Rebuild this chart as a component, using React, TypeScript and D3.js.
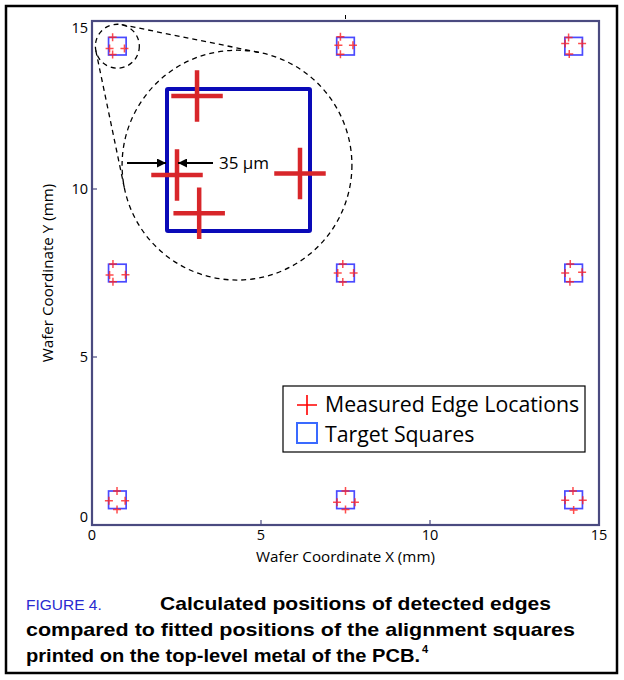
import React from 'react';
import * as d3 from 'd3';

// ---- data ----
const xTicks = [0, 5, 10, 15];
const yTicks = [0, 5, 10, 15];
const targetX = [0.75, 7.5, 14.25, 0.75, 7.5, 14.25, 0.75, 7.5, 14.25];
const targetY = [14.25, 14.25, 14.25, 7.5, 7.5, 7.5, 0.75, 0.75, 0.75];
const targetSide = 0.52;
// measured edge locations (top, left, right, bottom) for each square
const edgeX = [
  0.61, 0.52, 0.96, 0.61,
  7.35, 7.29, 7.72, 7.35,
  14.1, 14.0, 14.5, 14.12,
  0.62, 0.52, 0.99, 0.62,
  7.42, 7.27, 7.74, 7.42,
  14.15, 14.0, 14.5, 14.14,
  0.74, 0.5, 0.98, 0.74,
  7.5, 7.25, 7.78, 7.5,
  14.23, 14.0, 14.52, 14.25,
];
const edgeY = [
  14.52, 14.18, 14.18, 14.0,
  14.53, 14.28, 14.28, 14.01,
  14.51, 14.33, 14.33, 14.02,
  7.77, 7.44, 7.45, 7.24,
  7.77, 7.5, 7.5, 7.23,
  7.77, 7.5, 7.52, 7.24,
  1.01, 0.72, 0.72, 0.46,
  1.01, 0.68, 0.68, 0.46,
  1.01, 0.74, 0.74, 0.45,
];
// magnified inset: edge offsets in units of the square's half side
const insetEdgeDX = [-0.58, -0.86, 0.86, -0.55];
const insetEdgeDY = [0.9, -0.21, -0.19, -0.75];
const insetCenter = [4.29, 10.71];
const insetRadius = 3.4;
const zoomRadius = 0.65;
const captionLines = [
  'Calculated positions of detected edges',
  'compared to fitted positions of the alignment squares',
  'printed on the top-level metal of the PCB.',
];

const W = 624;
const H = 680;
const FONT = '"Open Sans", Lato, sans-serif';
const CAP = '"Liberation Sans", Arial, sans-serif';

export default function App() {
  const x = d3.scaleLinear().domain([0, 15]).range([92, 599]);
  const y = d3.scaleLinear().domain([0, 15]).range([525, 21]);
  const [x0, x1] = x.range();
  const [y0, y1] = y.range();

  const half = (x(targetSide) - x(0)) / 2;
  const crossArm = 4;

  // inset geometry
  const c1 = [x(targetX[0]), y(targetY[0])];
  const r1 = x(zoomRadius) - x(0);
  const c2 = [x(insetCenter[0]), y(insetCenter[1])];
  const r2 = x(insetRadius) - x(0);
  const dx = c2[0] - c1[0];
  const dy = c2[1] - c1[1];
  const d = Math.hypot(dx, dy);
  const base = Math.atan2(dy, dx);
  const theta = Math.acos((r1 - r2) / d);
  const tangents = [base - theta, base + theta].map((a) => {
    const n = [Math.cos(a), Math.sin(a)];
    return [c1[0] + r1 * n[0], c1[1] + r1 * n[1], c2[0] + r2 * n[0], c2[1] + r2 * n[1]];
  });

  // inset square scale
  const ix = d3.scaleLinear().domain([-1, 1]).range([167, 310]);
  const iy = d3.scaleLinear().domain([-1, 1]).range([231, 89]);
  const iArm = (ix(1) - ix(-1)) * 0.18;
  const arrowY = 163;
  const leftEdgePx = ix(-1);
  const leftCrossPx = ix(insetEdgeDX[1]);

  const edgeIdx = d3.range(edgeX.length);

  return (
    <svg
      width={W}
      height={H}
      style={{ position: 'absolute', left: 0, top: 0, background: '#fff' }}
    >
      <defs>
        <marker id="ah" viewBox="0 0 10 10" refX="10" refY="5" markerWidth="11" markerHeight="9" orient="auto-start-reverse" markerUnits="userSpaceOnUse">
          <path d="M0,0 L10,5 L0,10 z" fill="#000" />
        </marker>
      </defs>
      <rect x={6} y={6} width={611} height={667} fill="#fff" stroke="#000" strokeWidth={2.5} />

      {/* plot frame */}
      <rect x={x0} y={y1} width={x1 - x0} height={y0 - y1} fill="#fff" stroke="#4a4a80" strokeWidth={2.2} />
      {xTicks.slice(1, -1).map((t) => (
        <line key={'xt' + t} x1={x(t)} x2={x(t)} y1={y0} y2={y0 - 5} stroke="#4a4a80" strokeWidth={1.2} />
      ))}
      {yTicks.slice(1, -1).map((t) => (
        <line key={'yt' + t} x1={x0} x2={x0 + 5} y1={y(t)} y2={y(t)} stroke="#4a4a80" strokeWidth={1.2} />
      ))}
      <line x1={x(7.5)} x2={x(7.5)} y1={y1 - 6} y2={y1 - 2} stroke="#000" strokeWidth={1} />

      {xTicks.map((t) => (
        <text key={'xl' + t} x={x(t)} y={y0 + 15} textAnchor="middle" fontFamily={FONT} fontSize={14.5} fill="#000">
          {t}
        </text>
      ))}
      {yTicks.map((t) => (
        <text
          key={'yl' + t}
          x={88}
          y={Math.min(Math.max(y(t), y1 + 7), y0 - 8)}
          dy="0.35em"
          textAnchor="end"
          fontFamily={FONT}
          fontSize={14.5}
          fill="#000"
        >
          {t}
        </text>
      ))}
      <text x={(x0 + x1) / 2} y={562} textAnchor="middle" fontFamily={FONT} fontSize={15.2} fill="#000">
        Wafer Coordinate X (mm)
      </text>
      <text
        transform={`translate(53,${(y0 + y1) / 2}) rotate(-90)`}
        textAnchor="middle"
        fontFamily={FONT}
        fontSize={15.2}
        fill="#000"
      >
        Wafer Coordinate Y (mm)
      </text>

      {/* target squares */}
      {targetX.map((tx, i) => (
        <rect
          key={'sq' + i}
          x={x(tx) - half}
          y={y(targetY[i]) - half}
          width={2 * half}
          height={2 * half}
          fill="none"
          stroke="#2a2aff"
          strokeOpacity={0.85}
          strokeWidth={1.7}
        />
      ))}
      {/* measured edges */}
      {edgeIdx.map((i) => (
        <path
          key={'e' + i}
          d={`M${x(edgeX[i]) - crossArm},${y(edgeY[i])}h${2 * crossArm}M${x(edgeX[i])},${y(edgeY[i]) - crossArm}v${2 * crossArm}`}
          stroke="#ff2020"
          strokeOpacity={0.8}
          strokeWidth={1.5}
        />
      ))}

      {/* inset */}
      <circle cx={c1[0]} cy={c1[1]} r={r1} fill="none" stroke="#000" strokeWidth={1.3} strokeDasharray="5,4" />
      <circle cx={c2[0]} cy={c2[1]} r={r2} fill="#fff" stroke="#000" strokeWidth={1.3} strokeDasharray="5,4" />
      {tangents.map((t, i) => (
        <line key={'tg' + i} x1={t[0]} y1={t[1]} x2={t[2]} y2={t[3]} stroke="#000" strokeWidth={1.3} strokeDasharray="5,4" />
      ))}
      <rect
        x={ix(-1)}
        y={iy(1)}
        width={ix(1) - ix(-1)}
        height={iy(-1) - iy(1)}
        fill="none"
        stroke="#0a0ab8"
        strokeWidth={4}
        rx={1}
      />
      {insetEdgeDX.map((ex, i) => (
        <path
          key={'ie' + i}
          d={`M${ix(ex) - iArm},${iy(insetEdgeDY[i])}h${2 * iArm}M${ix(ex)},${iy(insetEdgeDY[i]) - iArm}v${2 * iArm}`}
          stroke="#d8262a"
          strokeWidth={4.5}
        />
      ))}
      <line x1={leftEdgePx - 40} y1={arrowY} x2={leftEdgePx - 1} y2={arrowY} stroke="#000" strokeWidth={2.2} markerEnd="url(#ah)" />
      <line x1={leftCrossPx + 36} y1={arrowY} x2={leftCrossPx + 1} y2={arrowY} stroke="#000" strokeWidth={2.2} markerEnd="url(#ah)" />
      <text x={leftCrossPx + 42} y={arrowY + 6} fontFamily={FONT} fontSize={17} fill="#000">
        35 µm
      </text>

      {/* legend */}
      <rect x={283} y={386} width={302} height={66} fill="#fff" stroke="#000" strokeWidth={1.2} />
      <path d="M297,405h20M307,395v20" stroke="#ff0000" strokeWidth={1.6} />
      <rect x={297} y={423} width={20} height={20} fill="none" stroke="#3a6aff" strokeWidth={2} />
      <text x={325} y={412} fontFamily={FONT} fontSize={21.3} fill="#000">
        Measured Edge Locations
      </text>
      <text x={325} y={442} fontFamily={FONT} fontSize={21.3} fill="#000">
        Target Squares
      </text>

      {/* caption */}
      <text x={26} y={610} fontFamily={CAP} fontSize={15.5} fill="#2a2ad0">
        FIGURE 4.
      </text>
      <text x={160} y={610} fontFamily={CAP} fontWeight="bold" fontSize={19} fill="#000" textLength={391} lengthAdjust="spacingAndGlyphs">
        {captionLines[0]}
      </text>
      <text x={26} y={636} fontFamily={CAP} fontWeight="bold" fontSize={19} fill="#000" textLength={549} lengthAdjust="spacingAndGlyphs">
        {captionLines[1]}
      </text>
      <text x={26} y={662} fontFamily={CAP} fontWeight="bold" fontSize={19} fill="#000" textLength={394} lengthAdjust="spacingAndGlyphs">
        {captionLines[2]}
      </text>
      <text x={422} y={653} fontFamily={CAP} fontWeight="bold" fontSize={11} fill="#000">
        4
      </text>
    </svg>
  );
}
